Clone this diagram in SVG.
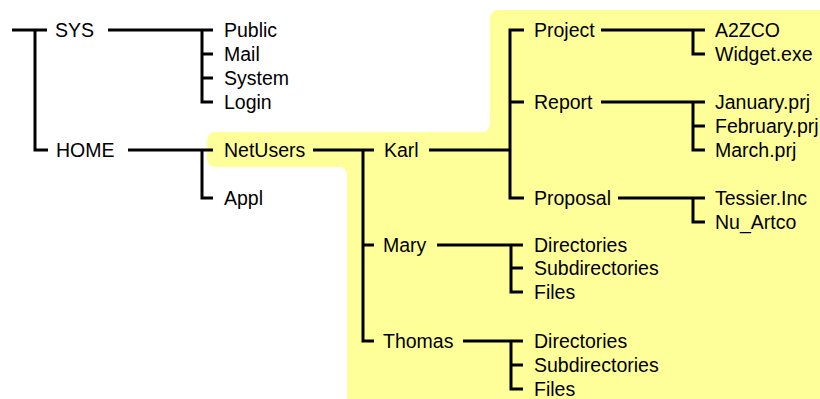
<svg xmlns="http://www.w3.org/2000/svg" width="820" height="399" viewBox="0 0 820 399">
<style>
text{font-family:"Liberation Sans",Arial,sans-serif;font-size:19.5px;fill:#000}
.c{stroke:#000;stroke-width:3;fill:none;stroke-linecap:butt;stroke-linejoin:miter}
</style>
<rect x="0" y="0" width="820" height="399" fill="#fff"/>
<path id="highlight" d="M215,132 H482 A8,8 0 0 0 490,124 V18 A8,8 0 0 1 498,10 H820 V399 H347 V175 A8,8 0 0 0 339,167 H215 A8,8 0 0 1 207,159 V140 A8,8 0 0 1 215,132 Z" fill="#ffff99"/>
<g id="connectors" class="c">
<path d="M12,30 H47 M35,30 V150 H48"/>
<path d="M108,30 H213 M202,30 V102 H213 M202,54 H213 M202,78 H213"/>
<path d="M128,150 H213 M202,150 V198 H213"/>
<path d="M313,150 H374 M363,150 V341 H374 M363,245 H374"/>
<path d="M429,150 H510 M524,30 H510 V198 H524 M510,102 H524"/>
<path d="M601,30 H705 M693,30 V54 H705"/>
<path d="M601,102 H705 M693,102 V150 H705 M693,126 H705"/>
<path d="M618,198 H705 M693,198 V222 H705"/>
<path d="M437,245 H523 M511,245 V292 H523 M511,268 H523"/>
<path d="M463,341 H523 M511,341 V389 H523 M511,365 H523"/>
</g>
<g id="n-sys"><text x="55" y="37">SYS</text></g>
<g id="n-home"><text x="56" y="157">HOME</text></g>
<g id="n-public"><text x="224" y="37">Public</text></g>
<g id="n-mail"><text x="224" y="61">Mail</text></g>
<g id="n-system"><text x="224" y="85">System</text></g>
<g id="n-login"><text x="224" y="109">Login</text></g>
<g id="n-netusers"><text x="224" y="157">NetUsers</text></g>
<g id="n-appl"><text x="224" y="205">Appl</text></g>
<g id="n-karl"><text x="384" y="157">Karl</text></g>
<g id="n-mary"><text x="383" y="252">Mary</text></g>
<g id="n-thomas"><text x="383" y="348">Thomas</text></g>
<g id="n-project"><text x="534" y="37">Project</text></g>
<g id="n-report"><text x="534" y="109">Report</text></g>
<g id="n-proposal"><text x="534" y="205">Proposal</text></g>
<g id="n-a2zco"><text x="715" y="37">A2ZCO</text></g>
<g id="n-widget"><text x="715" y="61">Widget.exe</text></g>
<g id="n-january"><text x="715" y="109">January.prj</text></g>
<g id="n-february"><text x="715" y="133">February.prj</text></g>
<g id="n-march"><text x="715" y="157">March.prj</text></g>
<g id="n-tessier"><text x="715" y="205">Tessier.Inc</text></g>
<g id="n-nuartco"><text x="715" y="229">Nu_Artco</text></g>
<g id="n-mary-dir"><text x="534" y="252">Directories</text></g>
<g id="n-mary-sub"><text x="534" y="275">Subdirectories</text></g>
<g id="n-mary-files"><text x="534" y="299">Files</text></g>
<g id="n-thomas-dir"><text x="534" y="348">Directories</text></g>
<g id="n-thomas-sub"><text x="534" y="372">Subdirectories</text></g>
<g id="n-thomas-files"><text x="534" y="396">Files</text></g>
</svg>
